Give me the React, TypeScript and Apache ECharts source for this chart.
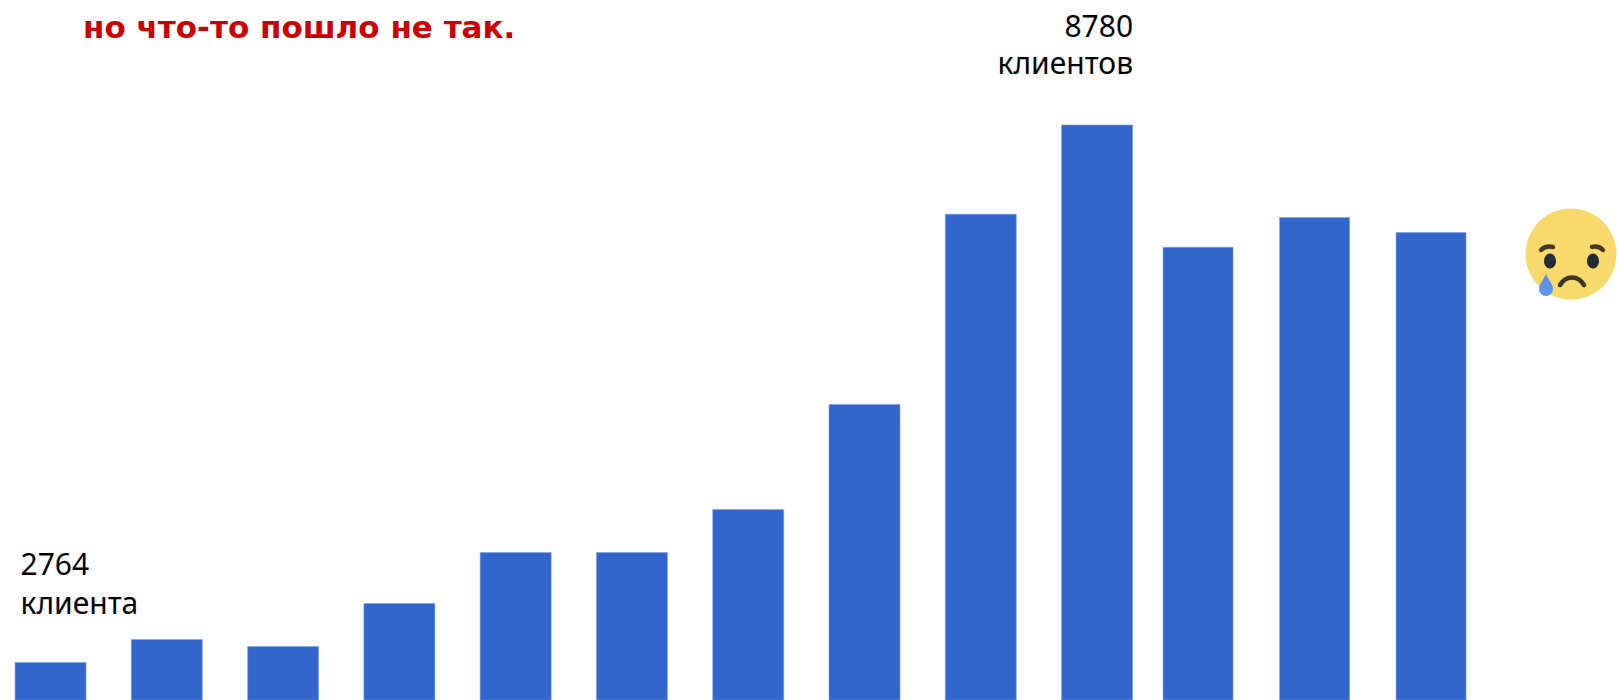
import React, { useEffect, useRef } from "react";
import * as echarts from "echarts";

// Client counts per period; the chart has a narrower gap before the last three periods.
const earlyPeriods = ["1", "2", "3", "4", "5", "6", "7", "8", "9", "10"];
const earlyClients = [2764, 3021, 2943, 3424, 3995, 3995, 4476, 5651, 7782, 8780];
const latePeriods = ["11", "12", "13"];
const lateClients = [7412, 7744, 7576];

const headline = "но что-то пошло не так.";
const firstUnit = "клиента";
const peakUnit = "клиентов";

const axisMin = 2339;
const axisMax = 10173;

const BAR = "#3366cc";
const BODY_FONT = "'Noto Sans', sans-serif";

// The first slot starts left of the page edge, so the canvas bleeds out by this much.
const BLEED = 8;

echarts.graphic.registerShape(
  "teardrop",
  echarts.graphic.extendPath("M7 0C8 6 14 10 14 16A7 7 0 0 1 0 16C0 10 6 6 7 0Z", {})
);

function barStyle() {
  return { color: BAR, borderColor: "rgba(120,160,235,0.55)", borderWidth: 1 };
}

function noteLabel(unit: string, position: number[], align: string, lineHeight: number) {
  return {
    show: true,
    position,
    align,
    verticalAlign: "top",
    formatter: (p: any) => `${p.value}\n${unit}`,
    fontFamily: BODY_FONT,
    fontSize: 30,
    lineHeight,
    color: "#000000",
  };
}

function hiddenCategory(gridIndex: number, data: string[]) {
  return { type: "category", gridIndex, data, show: false };
}

function hiddenValue(gridIndex: number) {
  return { type: "value", gridIndex, min: axisMin, max: axisMax, show: false };
}

function stroke(color: string, lineWidth: number) {
  return { stroke: color, lineWidth, fill: "none", lineCap: "round" };
}

export default function App() {
  const ref = useRef<HTMLDivElement>(null);

  useEffect(() => {
    const chart = echarts.init(ref.current!, undefined, { renderer: "svg" });
    const early = earlyClients.map((value, i) => {
      if (i === 0) return { value, label: noteLabel(firstUnit, [6, -118], "left", 39) };
      if (i === earlyClients.length - 1)
        return { value, label: noteLabel(peakUnit, [72, -117], "right", 37) };
      return value;
    });

    chart.setOption({
      animation: false,
      backgroundColor: "#ffffff",
      title: {
        text: headline,
        left: 78 + BLEED,
        top: 6,
        textStyle: {
          fontFamily: "'DejaVu Sans', sans-serif",
          fontWeight: "bold",
          fontSize: 31,
          color: "#cc0000",
        },
      },
      grid: [
        { left: BLEED - 7.6, top: 0, width: 1162.8, height: 700 },
        { left: BLEED + 1139.8, top: 0, width: 349.5, height: 700 },
      ],
      xAxis: [hiddenCategory(0, earlyPeriods), hiddenCategory(1, latePeriods)],
      yAxis: [hiddenValue(0), hiddenValue(1)],
      series: [
        {
          type: "bar",
          xAxisIndex: 0,
          yAxisIndex: 0,
          data: early,
          barWidth: 72,
          itemStyle: barStyle(),
          silent: true,
        },
        {
          type: "bar",
          xAxisIndex: 1,
          yAxisIndex: 1,
          data: lateClients,
          barWidth: 71,
          itemStyle: barStyle(),
          silent: true,
        },
      ],
      // Crying-face reaction beside the last bar
      graphic: {
        elements: [
          {
            type: "group",
            x: BLEED,
            children: [
              { type: "circle", shape: { cx: 1571, cy: 254, r: 45.5 }, style: { fill: "#f8da6c" } },
              { type: "ellipse", shape: { cx: 1550, cy: 261, rx: 6, ry: 7.5 }, style: { fill: "#232a38" } },
              { type: "ellipse", shape: { cx: 1593, cy: 261, rx: 6, ry: 7.5 }, style: { fill: "#232a38" } },
              {
                type: "bezierCurve",
                shape: { x1: 1541, y1: 250, x2: 1553, y2: 247, cpx1: 1544, cpy1: 247, cpx2: 1549, cpy2: 246 },
                style: stroke("#463720", 4.5),
              },
              {
                type: "bezierCurve",
                shape: { x1: 1592, y1: 247, x2: 1603, y2: 250, cpx1: 1596, cpy1: 246, cpx2: 1600, cpy2: 247 },
                style: stroke("#463720", 4.5),
              },
              {
                type: "bezierCurve",
                shape: { x1: 1560, y1: 285, x2: 1584, y2: 285, cpx1: 1566, cpy1: 275, cpx2: 1578, cpy2: 275 },
                style: stroke("#3f3524", 4.5),
              },
              { type: "teardrop", x: 1539, y: 273, style: { fill: "#5b93e8" } },
            ],
          },
        ],
      },
    });
    return () => chart.dispose();
  }, []);

  return (
    <div
      ref={ref}
      style={{
        position: "fixed",
        left: -BLEED,
        top: 0,
        width: 1618 + BLEED,
        height: 700,
        overflow: "hidden",
      }}
    />
  );
}
